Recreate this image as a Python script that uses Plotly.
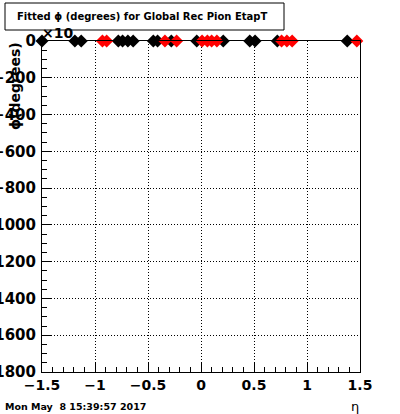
import plotly.graph_objects as go

# Data (eta positions of fitted phi points, all at phi ~ 0)
eta_black = [-1.5, -1.19, -1.13, -0.78, -0.74, -0.69, -0.64, -0.45, -0.41, -0.28,
             -0.04, 0.21, 0.46, 0.51, 0.72, 1.38]
phi_black = [0] * len(eta_black)
eta_red = [-0.93, -0.89, -0.34, -0.23, 0.01, 0.06, 0.10, 0.15, 0.76, 0.81, 0.86, 1.47]
phi_red = [0] * len(eta_red)

x_ticks = [-1.5, -1, -0.5, 0, 0.5, 1, 1.5]
x_ticklabels = ["\u22121.5", "\u22121", "\u22120.5", "0", "0.5", "1", "1.5"]
y_ticks = [0, -200, -400, -600, -800, -1000, -1200, -1400, -1600, -1800]
y_ticklabels = ["0"] + ["\u2212%d" % (-v) for v in y_ticks[1:]]

title_text = "Fitted \u03d5 (degrees) for Global Rec Pion EtapT"
ytitle_text = "\u03d5(degrees)"
xtitle_text = "\u03b7"
date_text = "Mon May\u00a0\u00a08 15:39:57 2017"

W, H = 400, 414
L, R, T, B = 42, 40, 41, 42
PW, PH = W - L - R, H - T - B


def px_x(p):
    return (p - L) / PW


def px_y(p):
    return (H - B - p) / PH


FONT = "DejaVu Sans"

fig = go.Figure()
fig.add_trace(go.Scatter(x=eta_black, y=phi_black, mode="markers",
                         marker=dict(symbol="diamond", size=10, color="black",
                                     line=dict(width=0)),
                         cliponaxis=False, showlegend=False))
fig.add_trace(go.Scatter(x=eta_red, y=phi_red, mode="markers",
                         marker=dict(symbol="diamond", size=10, color="red",
                                     line=dict(width=0)),
                         cliponaxis=False, showlegend=False))

axis_common = dict(showline=True, linecolor="black", linewidth=1, mirror=True,
                   ticks="inside", tickcolor="black", ticklen=10, tickwidth=1,
                   showgrid=True, gridcolor="black", griddash="1px,2px", gridwidth=1,
                   zeroline=False, automargin=False)

fig.update_layout(
    width=W, height=H,
    margin=dict(l=L, r=R, t=T, b=B, pad=0, autoexpand=False),
    paper_bgcolor="white", plot_bgcolor="white",
    xaxis=dict(range=[-1.5, 1.5], tickvals=x_ticks, ticktext=x_ticklabels,
               minor=dict(ticks="inside", ticklen=5, dtick=0.1, tickcolor="black",
                          showgrid=False),
               tickfont=dict(family=FONT, size=14, color="black", weight="bold"),
               **axis_common),
    yaxis=dict(range=[-1800, 0], tickvals=y_ticks, ticktext=y_ticklabels,
               minor=dict(ticks="inside", ticklen=5, dtick=50, tickcolor="black",
                          showgrid=False),
               ticklabelstandoff=2,
               tickfont=dict(family=FONT, size=15, color="black", weight="bold"),
               **axis_common),
    shapes=[dict(type="rect", xref="paper", yref="paper",
                 x0=px_x(5), x1=px_x(284), y0=px_y(30), y1=px_y(3),
                 fillcolor="white", line=dict(color="black", width=1),
                 layer="above")],
    annotations=[
        dict(text="\u00d710", xref="paper", yref="paper", x=px_x(40), y=px_y(33),
             xanchor="left", yanchor="middle", showarrow=False,
             font=dict(family=FONT, size=14, color="black", weight="bold")),
        dict(text=title_text, xref="paper", yref="paper", x=px_x(142), y=px_y(17),
             xanchor="center", yanchor="middle", showarrow=False,
             font=dict(family=FONT, size=10, color="black", weight="bold")),
        dict(text=ytitle_text, xref="paper", yref="paper", x=px_x(15), y=px_y(40),
             xanchor="center", yanchor="top", textangle=-90, showarrow=False,
             font=dict(family=FONT, size=14, color="black", weight="bold")),
        dict(text=xtitle_text, xref="paper", yref="paper", x=px_x(355), y=px_y(406),
             xanchor="center", yanchor="middle", showarrow=False,
             font=dict(family=FONT, size=13, color="black")),
        dict(text=date_text, xref="paper", yref="paper", x=px_x(3), y=px_y(406),
             xanchor="left", yanchor="middle", showarrow=False,
             font=dict(family=FONT, size=9.5, color="black", weight="bold")),
    ],
)

fig.write_html("out.html", config={"displayModeBar": False},
               post_script="document.body.style.margin='0';document.body.style.padding='0';")
